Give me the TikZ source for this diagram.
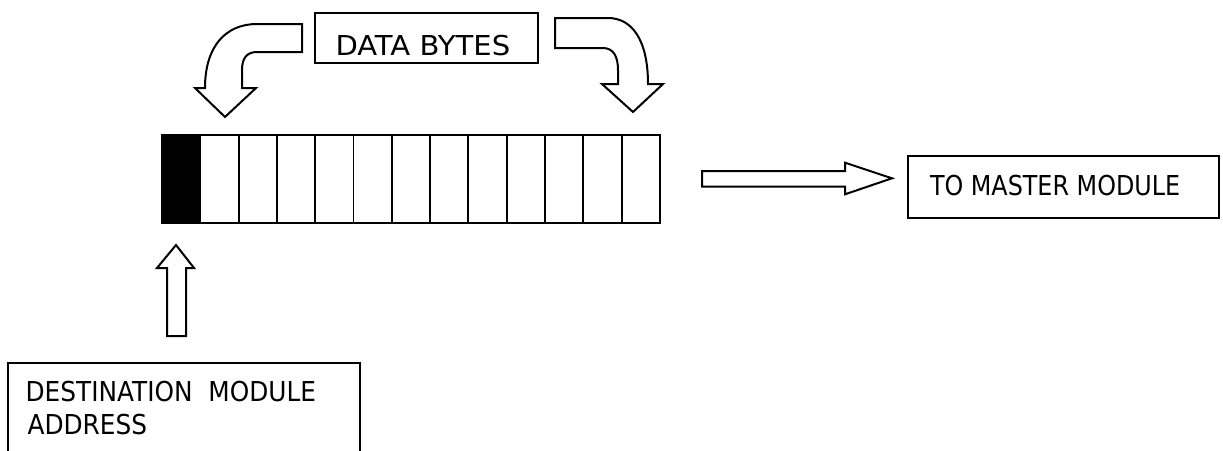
\documentclass[tikz,border=0pt]{standalone}
\usepackage{fontspec}
\usepackage{graphicx}
\setmainfont{DejaVu Sans}
\begin{document}
\begin{tikzpicture}[x=1pt,y=-1pt,
  outline/.style={draw=black,line width=2pt,fill=white},
  frame/.style={draw=black,line width=1.6pt,inner sep=0pt,outer sep=0pt,anchor=north west},
  cell/.style={draw=black,line width=1.9pt,inner sep=0pt,outer sep=0pt,anchor=north west,minimum width=38.3pt,minimum height=88pt},
  label/.style={inner sep=0pt,outer sep=0pt,anchor=base west,font=\fontsize{27.4}{33}\selectfont}]
\clip (0,0) rectangle (1223,450);
\fill[white] (0,0) rectangle (1223,450);
% data bytes box
\node[frame,minimum width=223pt,minimum height=50pt] (db) at (315,13) {};
\node[label] (dbt) at (335.5,55) {\scalebox{1.06}[1]{DATA BYTES}};
% left curved arrow
\draw[outline] (302,24) -- (257,24) .. controls (226,24) and (205,46) .. (205,88)
  -- (195,88) -- (225,117) -- (256,88) -- (242,88) -- (242,70)
  .. controls (242,58) and (247,52) .. (257,52) -- (302,52) -- cycle;
% right curved arrow
\draw[outline] (555,18) -- (608,18) .. controls (632,18) and (648,40) .. (648,84)
  -- (663,84) -- (633,112) -- (602,84) -- (618,84) -- (618,70)
  .. controls (618,56) and (613,48) .. (603,48) -- (555,48) -- cycle;
% register of 13 cells
\foreach \i in {1,...,13}{
  \node[cell] (c\i) at ({162+(\i-1)*38.3},135) {};
}
\fill[black] (c1.north west) rectangle (c1.south east);
\draw[line width=1.9pt] (c1.north west) rectangle (c1.south east);
% right block arrow
\draw[outline] (702,171) -- (845,171) -- (845,162.7) -- (892,178.3) -- (845,194.3)
  -- (845,186.7) -- (702,186.7) -- cycle;
% to master module box
\node[frame,minimum width=311pt,minimum height=62pt] (tm) at (908,156) {};
\node[label] (tmt) at (930,195) {\scalebox{0.87}[1]{TO MASTER MODULE}};
% up block arrow
\draw[outline] (167,336) -- (167,268) -- (157,268) -- (176,245) -- (194,268)
  -- (186,268) -- (186,336) -- cycle;
% destination box
\node[frame,minimum width=352pt,minimum height=120pt] (dm) at (8,363) {};
\node[label] (dmt1) at (25.6,401) {\scalebox{0.905}[1]{DESTINATION~~MODULE}};
\node[label] (dmt2) at (27.6,434) {\scalebox{0.905}[1]{ADDRESS}};
\end{tikzpicture}
\end{document}
